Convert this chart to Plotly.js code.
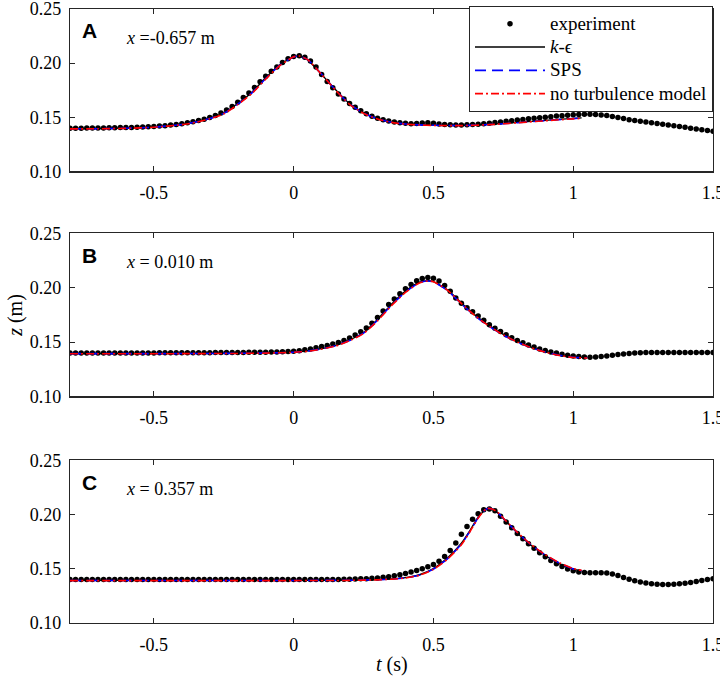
<!DOCTYPE html>
<html>
<head>
<meta charset="utf-8">
<script src="https://cdn.plot.ly/plotly-3.0.1.min.js"></script>
<style>
  html, body { margin: 0; padding: 0; background: #fff; }
  #chart { width: 720px; height: 682px; }
</style>
</head>
<body>
<div id="chart"></div>
<script>
// sampling times of the measured free surface (s)
const tExp = [
  -0.80, -0.78, -0.76, -0.74, -0.72, -0.70, -0.68, -0.66, -0.64, -0.62,
  -0.60, -0.58, -0.56, -0.54, -0.52, -0.50, -0.48, -0.46, -0.44, -0.42,
  -0.40, -0.38, -0.36, -0.34, -0.32, -0.30, -0.28, -0.26, -0.24, -0.22,
  -0.20, -0.18, -0.16, -0.14, -0.12, -0.10, -0.08, -0.06, -0.04, -0.02,
  0.00, 0.02, 0.04, 0.06, 0.08, 0.10, 0.12, 0.14, 0.16, 0.18,
  0.20, 0.22, 0.24, 0.26, 0.28, 0.30, 0.32, 0.34, 0.36, 0.38,
  0.40, 0.42, 0.44, 0.46, 0.48, 0.50, 0.52, 0.54, 0.56, 0.58,
  0.60, 0.62, 0.64, 0.66, 0.68, 0.70, 0.72, 0.74, 0.76, 0.78,
  0.80, 0.82, 0.84, 0.86, 0.88, 0.90, 0.92, 0.94, 0.96, 0.98,
  1.00, 1.02, 1.04, 1.06, 1.08, 1.10, 1.12, 1.14, 1.16, 1.18,
  1.20, 1.22, 1.24, 1.26, 1.28, 1.30, 1.32, 1.34, 1.36, 1.38,
  1.40, 1.42, 1.44, 1.46, 1.48, 1.50
];

// A: x = -0.657 m
const expA = [
  0.1400, 0.1400, 0.1400, 0.1401, 0.1401, 0.1402, 0.1402, 0.1403, 0.1404, 0.1405,
  0.1406, 0.1407, 0.1409, 0.1411, 0.1413, 0.1415, 0.1419, 0.1423, 0.1428, 0.1433,
  0.1440, 0.1449, 0.1459, 0.1470, 0.1483, 0.1498, 0.1517, 0.1540, 0.1568, 0.1600,
  0.1640, 0.1682, 0.1725, 0.1775, 0.1828, 0.1880, 0.1925, 0.1965, 0.2005, 0.2040,
  0.2062, 0.2068, 0.2055, 0.2020, 0.1965, 0.1895, 0.1830, 0.1772, 0.1715, 0.1668,
  0.1628, 0.1592, 0.1560, 0.1533, 0.1510, 0.1492, 0.1477, 0.1465, 0.1456, 0.1449,
  0.1444, 0.1441, 0.1442, 0.1447, 0.1449, 0.1444, 0.1438, 0.1434, 0.1431, 0.1430,
  0.1430, 0.1431, 0.1433, 0.1436, 0.1440, 0.1445, 0.1451, 0.1457, 0.1463, 0.1469,
  0.1475, 0.1480, 0.1486, 0.1491, 0.1496, 0.1501, 0.1506, 0.1511, 0.1515, 0.1519,
  0.1523, 0.1526, 0.1528, 0.1528, 0.1526, 0.1522, 0.1516, 0.1508, 0.1499, 0.1489,
  0.1478, 0.1470, 0.1463, 0.1456, 0.1450, 0.1443, 0.1436, 0.1429, 0.1422, 0.1415,
  0.1408, 0.1400, 0.1393, 0.1386, 0.1378, 0.1371
];
const tModA = [-0.80, -0.70, -0.60, -0.50, -0.40, -0.35, -0.30, -0.25, -0.20, -0.15,
  -0.10, -0.05, 0.00, 0.02, 0.05, 0.10, 0.15, 0.20, 0.25, 0.30,
  0.35, 0.40, 0.45, 0.50, 0.60, 0.70, 0.80, 0.90, 1.00, 1.03];
const kepsA = [0.1396, 0.1397, 0.1401, 0.1411, 0.1436, 0.1458, 0.1492, 0.1540, 0.1628, 0.1730,
  0.1865, 0.1985, 0.2058, 0.2064, 0.2030, 0.1895, 0.1755, 0.1625, 0.1540, 0.1487,
  0.1456, 0.1440, 0.1432, 0.1428, 0.1426, 0.1436, 0.1453, 0.1472, 0.1490, 0.1495];
const spsA = [0.1394, 0.1395, 0.1399, 0.1409, 0.1434, 0.1456, 0.1489, 0.1536, 0.1622, 0.1724,
  0.1858, 0.1980, 0.2057, 0.2065, 0.2032, 0.1898, 0.1752, 0.1622, 0.1538, 0.1485,
  0.1454, 0.1438, 0.1430, 0.1426, 0.1424, 0.1433, 0.1450, 0.1469, 0.1488, 0.1493];
const noTurbA = [0.1393, 0.1394, 0.1398, 0.1408, 0.1432, 0.1453, 0.1486, 0.1532, 0.1617, 0.1718,
  0.1852, 0.1976, 0.2058, 0.2066, 0.2033, 0.1896, 0.1750, 0.1620, 0.1536, 0.1484,
  0.1453, 0.1437, 0.1429, 0.1425, 0.1423, 0.1432, 0.1449, 0.1468, 0.1486, 0.1490];

// B: x = 0.010 m
const expB = [
  0.1400, 0.1400, 0.1400, 0.1400, 0.1400, 0.1400, 0.1400, 0.1400, 0.1400, 0.1400,
  0.1400, 0.1400, 0.1400, 0.1400, 0.1400, 0.1400, 0.1401, 0.1401, 0.1401, 0.1401,
  0.1401, 0.1401, 0.1402, 0.1402, 0.1402, 0.1402, 0.1403, 0.1403, 0.1403, 0.1404,
  0.1404, 0.1404, 0.1405, 0.1405, 0.1406, 0.1407, 0.1408, 0.1409, 0.1410, 0.1412,
  0.1415, 0.1420, 0.1428, 0.1437, 0.1447, 0.1458, 0.1469, 0.1482, 0.1496, 0.1515,
  0.1538, 0.1565, 0.1595, 0.1630, 0.1672, 0.1725, 0.1785, 0.1845, 0.1895, 0.1945,
  0.1990, 0.2030, 0.2065, 0.2085, 0.2093, 0.2088, 0.2062, 0.2020, 0.1968, 0.1905,
  0.1858, 0.1815, 0.1778, 0.1740, 0.1700, 0.1660, 0.1628, 0.1597, 0.1568, 0.1540,
  0.1515, 0.1493, 0.1472, 0.1454, 0.1437, 0.1422, 0.1409, 0.1398, 0.1388, 0.1379,
  0.1372, 0.1366, 0.1362, 0.1361, 0.1363, 0.1367, 0.1372, 0.1378, 0.1385, 0.1390,
  0.1395, 0.1399, 0.1402, 0.1404, 0.1404, 0.1404, 0.1403, 0.1403, 0.1403, 0.1403,
  0.1403, 0.1403, 0.1403, 0.1403, 0.1403, 0.1403
];
const tModB = [-0.80, -0.60, -0.40, -0.20, -0.10, 0.00, 0.05, 0.10, 0.15, 0.20,
  0.25, 0.30, 0.35, 0.40, 0.45, 0.48, 0.50, 0.55, 0.60, 0.65,
  0.70, 0.75, 0.80, 0.85, 0.90, 0.95, 1.00, 1.05];
const kepsB = [0.1395, 0.1395, 0.1396, 0.1398, 0.1401, 0.1409, 0.1420, 0.1440, 0.1470, 0.1520,
  0.1588, 0.1708, 0.1848, 0.1968, 0.2050, 0.2064, 0.2055, 0.1980, 0.1860, 0.1745,
  0.1650, 0.1570, 0.1505, 0.1452, 0.1412, 0.1383, 0.1364, 0.1357];
const spsB = [0.1393, 0.1393, 0.1394, 0.1396, 0.1399, 0.1406, 0.1417, 0.1437, 0.1466, 0.1515,
  0.1582, 0.1700, 0.1840, 0.1960, 0.2046, 0.2062, 0.2054, 0.1975, 0.1852, 0.1738,
  0.1643, 0.1563, 0.1500, 0.1448, 0.1408, 0.1378, 0.1360, 0.1354];
const noTurbB = [0.1392, 0.1392, 0.1393, 0.1395, 0.1398, 0.1405, 0.1415, 0.1435, 0.1463, 0.1512,
  0.1578, 0.1695, 0.1835, 0.1956, 0.2044, 0.2062, 0.2055, 0.1978, 0.1855, 0.1740,
  0.1645, 0.1565, 0.1500, 0.1447, 0.1407, 0.1377, 0.1358, 0.1352];

// C: x = 0.357 m
const expC = [
  0.1400, 0.1400, 0.1400, 0.1400, 0.1400, 0.1400, 0.1400, 0.1400, 0.1400, 0.1400,
  0.1400, 0.1400, 0.1400, 0.1400, 0.1400, 0.1400, 0.1400, 0.1400, 0.1400, 0.1400,
  0.1400, 0.1400, 0.1400, 0.1400, 0.1400, 0.1400, 0.1400, 0.1400, 0.1400, 0.1400,
  0.1400, 0.1400, 0.1400, 0.1400, 0.1400, 0.1400, 0.1400, 0.1400, 0.1400, 0.1400,
  0.1400, 0.1400, 0.1400, 0.1400, 0.1400, 0.1401, 0.1401, 0.1401, 0.1402, 0.1403,
  0.1404, 0.1405, 0.1407, 0.1409, 0.1412, 0.1416, 0.1421, 0.1427, 0.1435, 0.1445,
  0.1457, 0.1470, 0.1484, 0.1500, 0.1518, 0.1540, 0.1570, 0.1612, 0.1668, 0.1738,
  0.1818, 0.1890, 0.1957, 0.2008, 0.2043, 0.2052, 0.2035, 0.1985, 0.1930, 0.1877,
  0.1826, 0.1776, 0.1730, 0.1688, 0.1648, 0.1610, 0.1577, 0.1547, 0.1520, 0.1498,
  0.1481, 0.1470, 0.1465, 0.1463, 0.1463, 0.1464, 0.1462, 0.1452, 0.1437, 0.1420,
  0.1404, 0.1390, 0.1378, 0.1369, 0.1362, 0.1358, 0.1356, 0.1356, 0.1357, 0.1361,
  0.1367, 0.1374, 0.1382, 0.1391, 0.1400, 0.1409
];
const tModC = [-0.80, -0.40, 0.00, 0.20, 0.30, 0.35, 0.40, 0.45, 0.50, 0.55,
  0.60, 0.63, 0.66, 0.69, 0.71, 0.73, 0.76, 0.80, 0.85, 0.90,
  0.95, 1.00, 1.03];
const kepsC = [0.1393, 0.1393, 0.1393, 0.1395, 0.1400, 0.1406, 0.1418, 0.1445, 0.1502, 0.1598,
  0.1735, 0.1850, 0.1975, 0.2050, 0.2050, 0.2015, 0.1935, 0.1830, 0.1715, 0.1622,
  0.1548, 0.1496, 0.1480];
const spsC = [0.1392, 0.1392, 0.1392, 0.1394, 0.1399, 0.1405, 0.1416, 0.1442, 0.1498, 0.1592,
  0.1728, 0.1842, 0.1970, 0.2052, 0.2052, 0.2018, 0.1938, 0.1834, 0.1720, 0.1627,
  0.1552, 0.1498, 0.1482];
const noTurbC = [0.1391, 0.1391, 0.1391, 0.1393, 0.1398, 0.1404, 0.1415, 0.1440, 0.1495, 0.1588,
  0.1722, 0.1838, 0.1968, 0.2055, 0.2052, 0.2020, 0.1940, 0.1836, 0.1722, 0.1630,
  0.1556, 0.1502, 0.1485];

const panelLetters = ['A', 'B', 'C'];
const panelProbes = ['<i>x</i> =-0.657 m', '<i>x</i> = 0.010 m', '<i>x</i> = 0.357 m'];
const seriesNames = ['experiment', '<i>k</i>-\u03f5', 'SPS', 'no turbulence model'];
const xTickVals = [-0.5, 0, 0.5, 1, 1.5];
const xTickText = ['-0.5', '0', '0.5', '1', '1.5'];
const yTickVals = [0.10, 0.15, 0.20, 0.25];
const yTickText = ['0.10', '0.15', '0.20', '0.25'];

const SERIF = 'Liberation Serif';
const SANS = 'Liberation Sans';
const AXIS_COLOR = '#262626';
// panel rows, paper fractions (plot area 8..623 px)
const DOMAINS = [[0.7354, 1.0], [0.3691, 0.6346], [0.0, 0.2650]];

// legend rows are spaced by the legend font size, text drawn a bit larger
const legendLabel = (s) => '<span style="font-size:19px">' + s + '</span>';

const panels = [
  { exp: expA, tMod: tModA, keps: kepsA, sps: spsA, noTurb: noTurbA },
  { exp: expB, tMod: tModB, keps: kepsB, sps: spsB, noTurb: noTurbB },
  { exp: expC, tMod: tModC, keps: kepsC, sps: spsC, noTurb: noTurbC },
];

const traces = [];
panels.forEach((p, i) => {
  const xa = i === 0 ? 'x' : 'x' + (i + 1);
  const ya = i === 0 ? 'y' : 'y' + (i + 1);
  const first = i === 0;
  traces.push({
    type: 'scatter', mode: 'markers', x: tExp, y: p.exp, xaxis: xa, yaxis: ya,
    name: legendLabel(seriesNames[0]), showlegend: first,
    marker: { color: '#000', size: 5.5 },
  });
  traces.push({
    type: 'scatter', mode: 'lines', x: p.tMod, y: p.keps, xaxis: xa, yaxis: ya,
    name: legendLabel(seriesNames[1]), showlegend: first,
    line: { color: '#000', width: 1.4, shape: 'spline', smoothing: 0.6 },
  });
  traces.push({
    type: 'scatter', mode: 'lines', x: p.tMod, y: p.sps, xaxis: xa, yaxis: ya,
    name: legendLabel(seriesNames[2]), showlegend: first,
    line: { color: '#0000ff', width: 1.6, dash: '11px,6px', shape: 'spline', smoothing: 0.6 },
  });
  traces.push({
    type: 'scatter', mode: 'lines', x: p.tMod, y: p.noTurb, xaxis: xa, yaxis: ya,
    name: legendLabel(seriesNames[3]), showlegend: first,
    line: { color: '#ff0000', width: 1.6, dash: '8px,3px,2px,3px', shape: 'spline', smoothing: 0.6 },
  });
});

const layout = {
  width: 720,
  height: 682,
  margin: { l: 70, r: 7, t: 8, b: 59 },
  paper_bgcolor: '#ffffff',
  plot_bgcolor: '#ffffff',
  font: { family: SERIF, size: 18, color: '#000' },
  showlegend: true,
  legend: {
    x: 1, y: 1.003, xanchor: 'right', yanchor: 'top',
    bgcolor: '#ffffff', bordercolor: AXIS_COLOR, borderwidth: 1,
    font: { family: SERIF, size: 15.6, color: '#000' },
    itemwidth: 70,
  },
  annotations: [],
};

DOMAINS.forEach((dom, i) => {
  const sfx = i === 0 ? '' : String(i + 1);
  layout['xaxis' + sfx] = {
    domain: [0, 1], anchor: 'y' + sfx, range: [-0.8, 1.5],
    tickvals: xTickVals, ticktext: xTickText,
    ticks: 'inside', ticklen: 5, tickwidth: 1, tickcolor: AXIS_COLOR,
    showline: true, linecolor: AXIS_COLOR, linewidth: 1.2, mirror: 'ticks',
    showgrid: false, zeroline: false, ticklabelstandoff: 5,
    ticklabeloverflow: 'allow',
    tickfont: { family: SERIF, size: 18, color: '#000' },
  };
  layout['yaxis' + sfx] = {
    domain: dom, anchor: 'x' + sfx, range: [0.10, 0.25],
    tickvals: yTickVals, ticktext: yTickText,
    ticks: 'inside', ticklen: 5, tickwidth: 1, tickcolor: AXIS_COLOR,
    showline: true, linecolor: AXIS_COLOR, linewidth: 1.2, mirror: 'ticks',
    showgrid: false, zeroline: false, ticklabelstandoff: 4,
    ticklabeloverflow: 'allow',
    tickfont: { family: SERIF, size: 18, color: '#000' },
  };
  layout.annotations.push({
    xref: 'x' + sfx + ' domain', yref: 'y' + sfx + ' domain',
    x: 0.015, y: 0.866, xanchor: 'left', yanchor: 'middle', showarrow: false,
    text: '<b>' + panelLetters[i] + '</b>',
    font: { family: SANS, size: 21, color: '#000' },
  });
  layout.annotations.push({
    xref: 'x' + sfx + ' domain', yref: 'y' + sfx + ' domain',
    x: 0.084, y: 0.824, xanchor: 'left', yanchor: 'middle', showarrow: false,
    text: panelProbes[i],
    font: { family: SERIF, size: 18, color: '#000' },
  });
});

// shared axis titles
layout.annotations.push({
  xref: 'paper', yref: 'y2 domain', x: -0.084, y: 0.5,
  xanchor: 'center', yanchor: 'middle', textangle: -90, showarrow: false,
  text: '<i>z</i> (m)', font: { family: SERIF, size: 20, color: '#000' },
});
layout.annotations.push({
  xref: 'x3 domain', yref: 'paper', x: 0.5, y: -0.068,
  xanchor: 'center', yanchor: 'middle', showarrow: false,
  text: '<i>t</i> (s)', font: { family: SERIF, size: 20, color: '#000' },
});

Plotly.newPlot('chart', traces, layout, { displayModeBar: false, staticPlot: true });
</script>
</body>
</html>
